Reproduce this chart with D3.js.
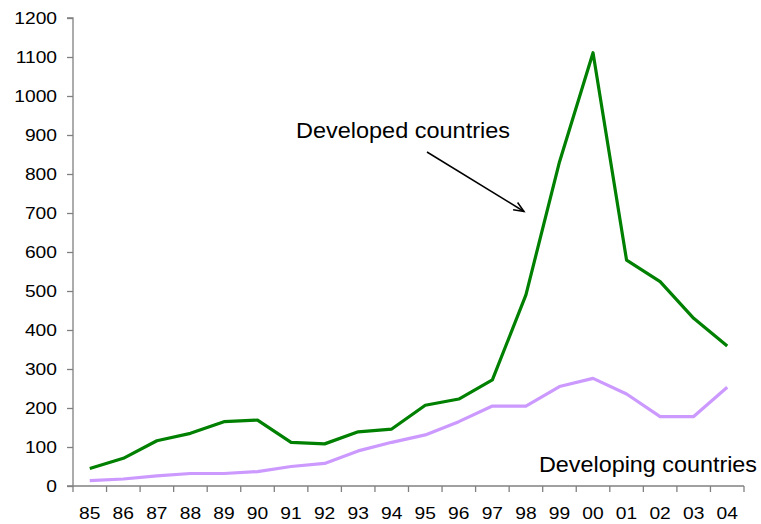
<!DOCTYPE html>
<html>
<head>
<meta charset="utf-8">
<script src="https://cdn.jsdelivr.net/npm/d3@7"></script>
<style>
  html, body { margin: 0; padding: 0; background: #fff; }
  svg text { font-family: "Liberation Sans", Arial, sans-serif; fill: #000; }
</style>
</head>
<body>
<svg id="chart" width="761" height="524"></svg>
<script>
const years = ["85","86","87","88","89","90","91","92","93","94","95","96","97","98","99","00","01","02","03","04"];
const developed = [45, 71, 116, 135, 165, 169, 112, 108, 139, 146, 207, 223, 272, 490, 831, 1111, 579, 524, 430, 359];
const developing = [14, 18, 26, 32, 32, 37, 50, 58, 90, 112, 131, 165, 205, 205, 255, 276, 236, 178, 178, 253];
const yTicks = [0, 100, 200, 300, 400, 500, 600, 700, 800, 900, 1000, 1100, 1200];
const seriesNames = ["Developed countries", "Developing countries"];

(function () {
const svg = d3.select("#chart");
const mLeft = 73, mRight = 744, mTop = 18, mBottom = 486;

const x = d3.scaleBand().domain(years).range([mLeft, mRight]).padding(0);
const y = d3.scaleLinear().domain([0, 1200]).range([mBottom, mTop]);

function stretch(sel, k) {
  sel.each(function () {
    const w = this.getComputedTextLength();
    d3.select(this).attr("textLength", w * k).attr("lengthAdjust", "spacingAndGlyphs");
  });
}

// Y axis
const yAxis = svg.append("g").attr("transform", `translate(${mLeft},0)`)
  .call(d3.axisLeft(y).tickValues(yTicks).tickSize(6).tickPadding(10).tickFormat(d3.format("d")));
yAxis.select(".domain").attr("d", `M-6,${mTop}H0V${mBottom}H-6`);
yAxis.selectAll("path, line").attr("stroke", "#808080").attr("stroke-width", 1.3);
yAxis.selectAll("text").style("font-size", "17px")
  .style("font-family", "'Liberation Sans', Arial, sans-serif").attr("fill", "#000");
stretch(yAxis.selectAll("text"), 1.13);

// X axis with ticks at band boundaries
const xg = svg.append("g").attr("transform", `translate(0,${mBottom})`);
xg.append("line").attr("x1", mLeft).attr("x2", mRight).attr("stroke", "#808080").attr("stroke-width", 1.3);
const bounds = years.map(d => x(d)).concat([x(years[years.length-1]) + x.bandwidth()]);
xg.selectAll("line.tk").data(bounds).enter().append("line").attr("class","tk")
  .attr("x1", d => d).attr("x2", d => d).attr("y1", 0).attr("y2", 6)
  .attr("stroke", "#808080").attr("stroke-width", 1.3);
const xt = xg.selectAll("text").data(years).enter().append("text")
  .attr("x", d => x(d) + x.bandwidth()/2)
  .attr("y", 33)
  .attr("text-anchor", "middle")
  .style("font-size", "17px")
  .text(d => d);
stretch(xt, 1.13);

const line = d3.line()
  .x((d, i) => x(years[i]) + x.bandwidth()/2)
  .y(d => y(d));

svg.append("path").datum(developing).attr("d", line)
  .attr("fill", "none").attr("stroke", "#cc99ff").attr("stroke-width", 3.2).attr("stroke-linejoin", "round");
svg.append("path").datum(developed).attr("d", line)
  .attr("fill", "none").attr("stroke", "#008000").attr("stroke-width", 3.2).attr("stroke-linejoin", "round");

// Labels
svg.append("text").attr("x", 296).attr("y", 137.5)
  .style("font-size", "21.5px").attr("textLength", 214).attr("lengthAdjust", "spacingAndGlyphs")
  .text(seriesNames[0]);
svg.append("text").attr("x", 539).attr("y", 472)
  .style("font-size", "21.5px").attr("textLength", 218).attr("lengthAdjust", "spacingAndGlyphs")
  .text(seriesNames[1]);

// Arrow
const ax1 = 427, ay1 = 152, ax2 = 524, ay2 = 211.5;
svg.append("line").attr("x1", ax1).attr("y1", ay1).attr("x2", ax2).attr("y2", ay2)
  .attr("stroke", "#000").attr("stroke-width", 1.5);
const ang = Math.atan2(ay2 - ay1, ax2 - ax1);
const hl = 11, ha = 0.4;
const head = d3.path();
head.moveTo(ax2 - hl*Math.cos(ang - ha), ay2 - hl*Math.sin(ang - ha));
head.lineTo(ax2, ay2);
head.lineTo(ax2 - hl*Math.cos(ang + ha), ay2 - hl*Math.sin(ang + ha));
svg.append("path").attr("d", head.toString()).attr("fill", "none").attr("stroke", "#000").attr("stroke-width", 1.5);
})();
</script>
</body>
</html>
